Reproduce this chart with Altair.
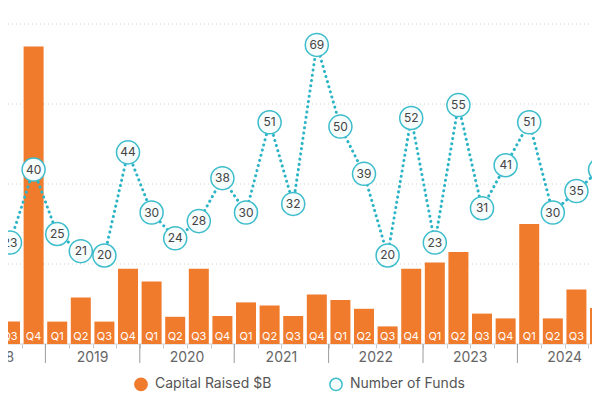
import altair as alt
import pandas as pd

# ---- data ----
years = ["2018", "2018", "2019", "2019", "2019", "2019", "2020", "2020", "2020", "2020",
         "2021", "2021", "2021", "2021", "2022", "2022", "2022", "2022",
         "2023", "2023", "2023", "2023", "2024", "2024", "2024", "2024"]
quarters = ["Q3", "Q4", "Q1", "Q2", "Q3", "Q4", "Q1", "Q2", "Q3", "Q4",
            "Q1", "Q2", "Q3", "Q4", "Q1", "Q2", "Q3", "Q4",
            "Q1", "Q2", "Q3", "Q4", "Q1", "Q2", "Q3", "Q4"]
capital = [1.4, 18.6, 1.4, 2.9, 1.4, 4.7, 3.9, 1.7, 4.7, 1.75,
           2.6, 2.4, 1.75, 3.1, 2.75, 2.2, 1.1, 4.7,
           5.1, 5.75, 1.9, 1.6, 7.5, 1.6, 3.4, 2.25]
funds = [23, 40, 25, 21, 20, 44, 30, 24, 28, 38,
         30, 51, 32, 69, 50, 39, 20, 52,
         23, 55, 31, 41, 51, 30, 35, 40]
year_labels = ["2018", "2019", "2020", "2021", "2022", "2023", "2024"]
grid_values = [0, 5, 10, 15, 20]
series_names = ["Capital Raised $B", "Number of Funds"]

ORANGE = "#F07B2D"
CYAN = "#3DBDCB"
DOT = "#2BB4C6"
FONT = "Inter"

df = pd.DataFrame({"year": years, "q": quarters, "capital": capital, "funds": funds})
df["idx"] = range(len(df))
df["cap_series"] = series_names[0]
df["fund_series"] = series_names[1]

# year centre / boundary positions in quarter-index units (first visible is 2018 Q3)
qnum = {"Q1": 0, "Q2": 1, "Q3": 2, "Q4": 3}
start_2018 = -qnum[quarters[0]]
mids = [start_2018 + 4 * k + 1.5 for k in range(len(year_labels))]
bounds = [start_2018 + 4 * k + 3.5 for k in range(len(year_labels) - 1)]
ydf = pd.DataFrame({"year": year_labels, "mid": mids})
bdf = pd.DataFrame({"bound": bounds})
gdf = pd.DataFrame({"g": grid_values})

XDOM = [-0.085, 24.66]
xscale = alt.Scale(domain=XDOM, nice=False, zero=False, padding=0)
tick_vals = [i + 0.5 for i in range(0, len(df) - 1)]
xaxis = alt.Axis(values=tick_vals, labels=False, tickSize=4, tickColor="#c8c8c8",
                 domain=False, grid=False, title=None)

cap_scale = alt.Scale(domain=[0, 21], nice=False, zero=False, padding=0)
fund_scale = alt.Scale(domain=[-0.6, 77.6], nice=False, zero=False, padding=0)

series_fill = alt.Scale(domain=series_names, range=[ORANGE, "#F7FCFD"])
series_stroke = alt.Scale(domain=series_names, range=[ORANGE, CYAN])
legend = alt.Legend(orient="none", legendX=126, legendY=369, direction="horizontal",
                    title=None, symbolType="circle", symbolSize=150, symbolStrokeWidth=1.5,
                    labelFont=FONT, labelFontSize=14, labelColor="#555555",
                    labelOffset=7, columnPadding=54)

# gridlines (dotted) and x baseline, spanning the full visible width
grid = alt.Chart(gdf).transform_filter(alt.datum.g > 0).mark_rule(
    color="#d2d2d2", strokeDash=[1, 3], strokeWidth=1
).encode(
    y=alt.Y("g:Q", scale=cap_scale, axis=None),
    x=alt.value(-8), x2=alt.value(592),
)
baseline = alt.Chart(gdf).transform_filter(alt.datum.g == 0).mark_rule(
    color="#d0d0d0", strokeWidth=1
).encode(
    y=alt.Y("g:Q", scale=cap_scale, axis=None),
    x=alt.value(-8), x2=alt.value(592),
)

base = alt.Chart(df)

bars = base.mark_bar(size=20).encode(
    x=alt.X("idx:Q", scale=xscale, axis=xaxis),
    y=alt.Y("capital:Q", scale=cap_scale, axis=None),
    fill=alt.Fill("cap_series:N", scale=series_fill, legend=legend),
)

qlabels = base.mark_text(color="white", font=FONT, fontSize=11, baseline="middle").encode(
    x=alt.X("idx:Q", scale=xscale, axis=xaxis),
    y=alt.value(329),
    text="q:N",
)

line = base.mark_line(color=DOT, strokeWidth=3, strokeDash=[0.1, 5.2], strokeCap="round").encode(
    x=alt.X("idx:Q", scale=xscale, axis=xaxis),
    y=alt.Y("funds:Q", scale=fund_scale, axis=None),
)

circles = base.mark_point(shape="circle", size=530, filled=True, strokeWidth=1.5, opacity=1).encode(
    x=alt.X("idx:Q", scale=xscale, axis=xaxis),
    y=alt.Y("funds:Q", scale=fund_scale, axis=None),
    fill=alt.Fill("fund_series:N", scale=series_fill, legend=legend),
    stroke=alt.Stroke("fund_series:N", scale=series_stroke, legend=legend),
)

ctext = base.mark_text(font=FONT, fontSize=12, color="#444444", baseline="middle").encode(
    x=alt.X("idx:Q", scale=xscale, axis=xaxis),
    y=alt.Y("funds:Q", scale=fund_scale, axis=None),
    text="funds:Q",
)

seps = alt.Chart(bdf).mark_rule(color="#9a9a9a", strokeWidth=1).encode(
    x=alt.X("bound:Q", scale=xscale, axis=xaxis),
    y=alt.value(336),
    y2=alt.value(355),
)
ytext = alt.Chart(ydf).mark_text(font=FONT, fontSize=14, color="#666666", baseline="middle").encode(
    x=alt.X("mid:Q", scale=xscale, axis=xaxis),
    y=alt.value(350),
    text="year:N",
)

chart = alt.layer(grid, baseline, bars, qlabels, seps, ytext, line, circles, ctext).resolve_scale(
    y="independent"
).properties(
    width=584,
    height=336,
    padding={"left": 0, "top": 0, "right": 0, "bottom": 48},
    autosize=alt.AutoSizeParams(type="none"),
).configure_view(stroke=None)

chart.save("out.html", embed_options={"renderer": "svg", "actions": False})
